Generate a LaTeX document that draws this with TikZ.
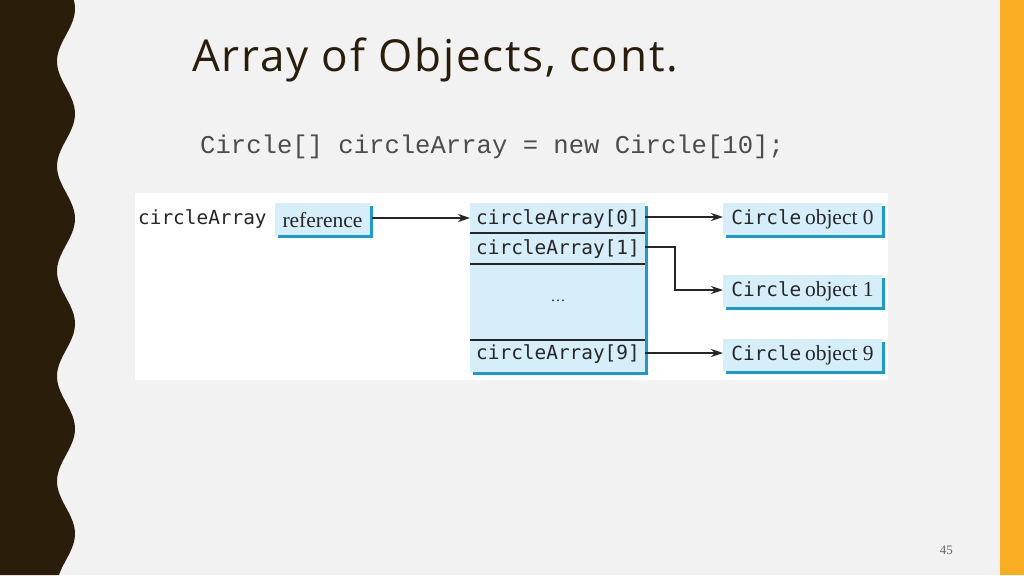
\documentclass[tikz,border=0pt]{standalone}
\usepackage{fontspec}
\setmainfont{Liberation Serif}
\newfontfamily\titlefont[LetterSpace=4]{Open Sans}
\newfontfamily\codefont{Liberation Mono}
\newfontfamily\dmono{DejaVu Sans Mono}
\usetikzlibrary{arrows.meta}
\definecolor{bgc}{HTML}{F2F2F2}
\definecolor{brn}{HTML}{2A1E0B}
\definecolor{org}{HTML}{F9AE22}
\definecolor{boxf}{HTML}{D5EEFA}
\definecolor{shd}{HTML}{1C9AD0}
\begin{document}
\begin{tikzpicture}[x=1pt,y=-1pt,
  box/.style={fill=boxf,draw=none},
  conn/.style={line width=2.6pt,draw=black!85,-{Stealth[length=12pt,width=8pt]}},
  mono/.style={font=\dmono\fontsize{19.4}{19}\selectfont,text=black!85},
  ser/.style={font=\fontsize{21.5}{21}\selectfont,text=black!85}]
\useasboundingbox (0,0) rectangle (1024,575);
\fill[bgc] (0,0) rectangle (1024,575);
\fill[org] (1000,0) rectangle (1024,575);
\fill[brn] (0,0) -- plot[domain=0:575,samples=120,smooth] ({66+9*sin(\x/105*360+60)},\x) -- (0,575) -- cycle;
\node[anchor=west,inner sep=0,text=brn,font=\titlefont\fontsize{44}{44}\selectfont] (title) at (192,60) {Array of Objects, cont.};
\node[anchor=west,inner sep=0,text=black!70,font=\codefont\fontsize{25.6}{25}\selectfont] (code) at (200,147) {Circle[] circleArray = new Circle[10];};
\node[anchor=east,inner sep=0,text=black!60,font=\fontsize{13}{13}\selectfont] (pg) at (953,550) {45};
\fill[white] (135,193) rectangle (888,380);
\foreach \a/\b/\c/\d in {275/203/370/235, 470/203/645/372, 723/203/882/235, 723/275/882/307, 723/339/882/371}{
  \fill[shd] (\a+3,\b+3) rectangle (\c+3,\d+3);
  \fill[boxf] (\a,\b) rectangle (\c,\d);}
\node[mono,anchor=west,inner sep=0] (lbl) at (138,219) {circleArray};
\node[ser,anchor=center,inner sep=0,minimum width=95pt,minimum height=32pt] (ref) at (322.5,220) {reference};
\node[inner sep=0,minimum width=175pt,minimum height=169pt] (arr) at (557.5,287.5) {};
\node[mono,inner sep=0] (a0) at (558,219) {circleArray[0]};
\node[mono,inner sep=0] (a1) at (558,249) {circleArray[1]};
\node[ser,inner sep=0] (ad) at (558,301) {\fontsize{15}{15}\selectfont\dots};
\node[mono,inner sep=0] (a9) at (558,354) {circleArray[9]};
\draw[line width=1.8pt,black!85] (470,233) -- (645,233) (470,264) -- (645,264) (470,340) -- (645,340);
\foreach \n/\y/\k in {o0/219.5/0, o1/291.5/1, o9/355.5/9}{
  \node[ser,inner sep=0,minimum width=159pt,minimum height=32pt] (\n) at (802.5,\y) {{\dmono\fontsize{19.4}{19}\selectfont Circle}\,object \k};}
\coordinate (e0) at (645,217); \coordinate (e1) at (645,247); \coordinate (e9) at (645,353);
\coordinate (t0) at (723,217); \coordinate (t1) at (723,290); \coordinate (t9) at (723,353);
\coordinate (r0) at (372,218); \coordinate (r1) at (470,218);
\draw[conn] (r0) -- (r1);
\draw[conn] (e0) -- (t0);
\draw[conn] (e1) -- (675,247) |- (t1);
\draw[conn] (e9) -- (t9);
\end{tikzpicture}
\end{document}
